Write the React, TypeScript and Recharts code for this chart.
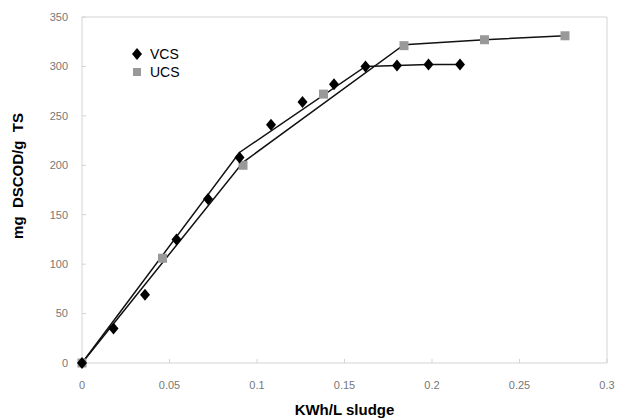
import React from 'react'
import { ScatterChart, Scatter, XAxis, YAxis, ReferenceLine } from 'recharts'

// measured points
const vcsX = [0, 0.018, 0.036, 0.054, 0.072, 0.09, 0.108, 0.126, 0.144, 0.162, 0.18, 0.198, 0.216]
const vcsY = [0, 35, 69, 125, 166, 208, 241, 264, 282, 300, 301, 302, 302]
const ucsX = [0, 0.046, 0.092, 0.138, 0.184, 0.23, 0.276]
const ucsY = [0, 106, 200, 272, 321, 327, 331]

// piecewise trend lines
const vcsFitX = [0, 0.09, 0.162, 0.18, 0.198, 0.216]
const vcsFitY = [0, 213, 300, 301, 302, 302]
const ucsFitX = [0, 0.092, 0.184, 0.23, 0.276]
const ucsFitY = [0, 203, 322, 327, 331]

const xTicks = [0, 0.05, 0.1, 0.15, 0.2, 0.25, 0.3]
const yTicks = [0, 50, 100, 150, 200, 250, 300, 350]

const zip = (xs: number[], ys: number[]) => xs.map((x, i) => ({ x, y: ys[i] }))

const FONT = 'Liberation Sans, Arial, sans-serif'
const AXIS = '#d4d4d4'
const tickStyle = { fontSize: 11, fill: '#777', fontFamily: FONT }

const NoDot = () => null

const Diamond = ({ cx, cy }: any) => (
  <polygon points={`${cx},${cy - 6} ${cx + 5},${cy} ${cx},${cy + 6} ${cx - 5},${cy}`} fill="#000" />
)

const Square = ({ cx, cy }: any) => (
  <rect x={cx - 4.5} y={cy - 4.5} width={9} height={9} fill="#999" />
)

const YLabel = ({ viewBox }: any) => {
  const x = viewBox.x + 17
  const y = viewBox.y + viewBox.height / 2 - 14
  return (
    <text x={x} y={y} transform={`rotate(-90, ${x}, ${y})`} textAnchor="middle" dominantBaseline="central"
      style={{ fontSize: 15, fontWeight: 'bold', fill: '#000', fontFamily: FONT }}>
      mg{'\u00a0\u00a0'}DSCOD/g{'\u00a0\u00a0'}TS
    </text>
  )
}

const LegendBox = () => (
  <div style={{ position: 'absolute', left: 130, top: 45, fontFamily: FONT, fontSize: 14, color: '#000', lineHeight: '18px' }}>
    <div style={{ display: 'flex', alignItems: 'center' }}>
      <svg width={14} height={14} style={{ marginRight: 6 }}>
        <polygon points="7,1 12,7 7,13 2,7" fill="#000" />
      </svg>
      VCS
    </div>
    <div style={{ display: 'flex', alignItems: 'center' }}>
      <svg width={14} height={14} style={{ marginRight: 6 }}>
        <rect x={3} y={3} width={8} height={8} fill="#999" />
      </svg>
      UCS
    </div>
  </div>
)

export default function App() {
  return (
    <div style={{ position: 'absolute', left: 0, top: 0, background: '#fff' }}>
      <ScatterChart width={632} height={419} margin={{ top: 17, right: 25, left: 0, bottom: 0 }}>
        <XAxis
          type="number"
          dataKey="x"
          domain={[0, 0.3]}
          ticks={xTicks}
          stroke={AXIS}
          tick={tickStyle}
          tickSize={-4}
          tickMargin={22}
          height={56}
          label={{ value: 'KWh/L sludge', position: 'insideBottom', offset: 4, style: { fontSize: 15, fontWeight: 'bold', fill: '#000', fontFamily: FONT } }}
        />
        <YAxis
          type="number"
          dataKey="y"
          domain={[0, 350]}
          ticks={yTicks}
          stroke={AXIS}
          tick={tickStyle}
          tickSize={-4}
          tickMargin={18}
          width={82}
          label={<YLabel />}
        />
        <ReferenceLine y={350} stroke={AXIS} />
        <ReferenceLine x={0.3} stroke={AXIS} />
        <Scatter name="ucsFit" data={zip(ucsFitX, ucsFitY)} line={{ stroke: '#111', strokeWidth: 1.5 }} shape={NoDot} legendType="none" isAnimationActive={false} />
        <Scatter name="vcsFit" data={zip(vcsFitX, vcsFitY)} line={{ stroke: '#111', strokeWidth: 1.5 }} shape={NoDot} legendType="none" isAnimationActive={false} />
        <Scatter name="UCS" data={zip(ucsX, ucsY)} shape={Square} isAnimationActive={false} />
        <Scatter name="VCS" data={zip(vcsX, vcsY)} shape={Diamond} isAnimationActive={false} />
      </ScatterChart>
      <LegendBox />
    </div>
  )
}
